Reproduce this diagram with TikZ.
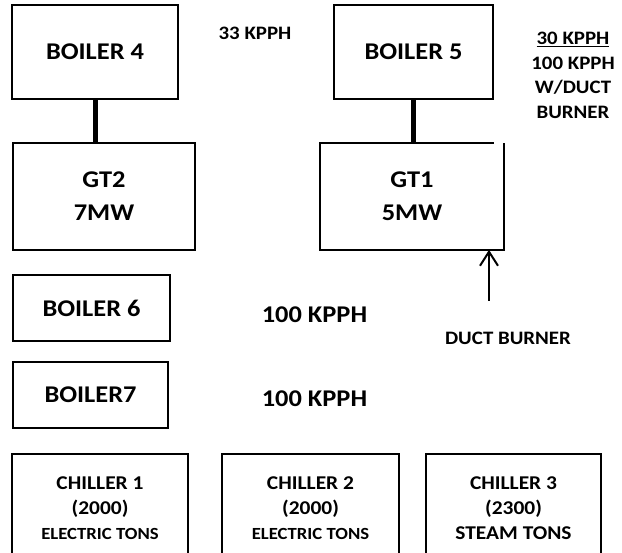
\documentclass[tikz,border=0pt]{standalone}
\usepackage{fontspec}
\setmainfont{Carlito}[FakeStretch=1.1]
\usetikzlibrary{arrows.meta}
\newcommand\bfbig{\fontsize{24}{33}\selectfont\bfseries}
\newcommand\bfmid{\fontsize{19}{24.5}\selectfont\bfseries}
\newcommand\bfchil{\fontsize{19.5}{25}\selectfont\bfseries}
\newcommand\bfsmall{\fontsize{17}{25}\selectfont\bfseries}

\begin{document}
\begin{tikzpicture}[x=1pt, y=-1pt, >={Straight Barb[length=14pt,width=18pt]},
  box/.style={draw, line width=1.8pt, align=center, inner sep=0pt, font=\bfbig},
  chiller/.style={box, minimum height=108pt, font=\bfchil},
  pipe/.style={line width=5pt},
  tag/.style={align=center, inner sep=0pt, font=\bfmid}]
  \useasboundingbox (0,0) rectangle (622,553);
  \clip (0,0) rectangle (622,553);
  % gas turbines with their boilers
  \node[box, minimum width=166pt, minimum height=94pt] (boilerfour) at (95,52) {BOILER 4};
  \node[box, minimum width=182pt, minimum height=107pt] (gttwo) at (104,196.5) {GT2\\7MW};
  \node[box, minimum width=159pt, minimum height=94pt] (boilerfive) at (413.5,52) {BOILER 5};
  \node[box, draw=none, minimum width=182pt, minimum height=105pt] (gtone) at (412,196.5) {GT1\\5MW};
  \draw[line width=1.8pt] ([xshift=-10pt]gtone.north east) -- (gtone.north west)
    -- (gtone.south west) -- (gtone.south east) -- (gtone.north east);
  \draw[pipe] (boilerfour.south) -- (boilerfour.south |- gttwo.north);
  \draw[pipe] (boilerfive.south) -- (boilerfive.south |- gtone.north);
  \node[tag] (kpphfour) at (255,33) {33 KPPH};
  \node[tag] (kpphfive) at (573,75.5) {\underline{30 KPPH}\\100 KPPH\\W/DUCT\\BURNER};
  % duct burner
  \coordinate (ductfoot) at (489,301);
  \draw[->, line width=2pt] (ductfoot) -- (ductfoot |- gtone.south);
  \node[tag] (duct) at (508,338) {DUCT BURNER};
  % package boilers
  \node[box, minimum width=157pt, minimum height=66pt] (boilersix) at (91.5,308) {BOILER 6};
  \node[box, minimum width=155pt, minimum height=66pt] (boilerseven) at (90.5,395) {BOILER7};
  \node[tag, font=\bfbig] (kpphsix) at (314.5,315) {100 KPPH};
  \node[tag, font=\bfbig] (kpphseven) at (314.5,399) {100 KPPH};
  % chillers
  \node[chiller, minimum width=176pt] (chillone) at (100,508) {CHILLER 1\\(2000)\\{\bfsmall ELECTRIC TONS}};
  \node[chiller, minimum width=177pt] (chilltwo) at (310.5,508) {CHILLER 2\\(2000)\\{\bfsmall ELECTRIC TONS}};
  \node[chiller, minimum width=175pt] (chillthree) at (513.5,508) {CHILLER 3\\(2300)\\STEAM TONS};
\end{tikzpicture}
\end{document}
